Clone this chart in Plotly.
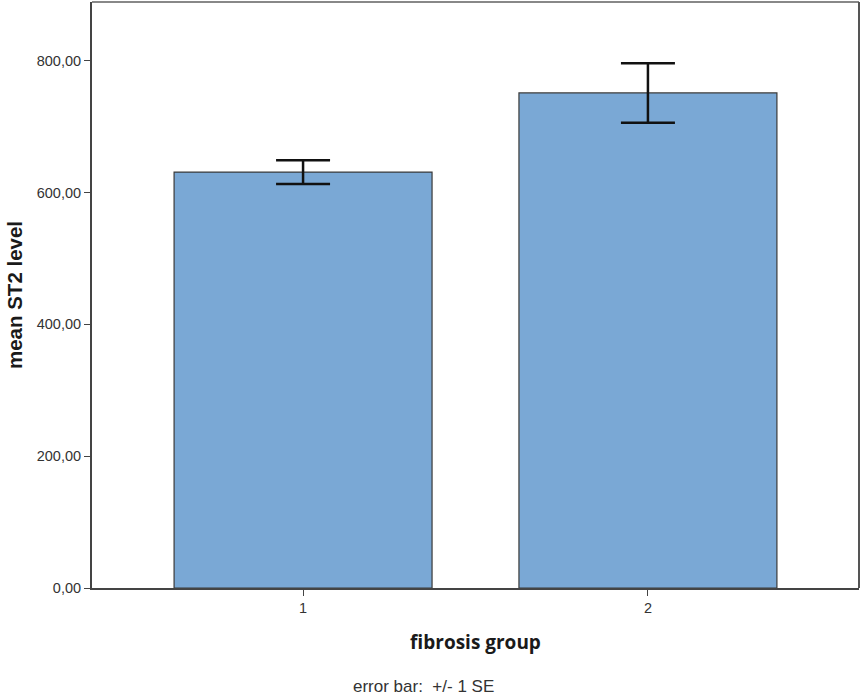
import plotly.graph_objects as go

# Mean ST2 level per fibrosis group, with standard error
groups = [1, 2]
group_labels = ["1", "2"]
mean_st2 = [631, 751]
se_st2 = [18, 45]

y_tick_vals = [0, 200, 400, 600, 800]
y_tick_text = ["0,00", "200,00", "400,00", "600,00", "800,00"]

fig = go.Figure()
fig.add_trace(go.Bar(
    x=groups,
    y=mean_st2,
    width=0.748,
    marker=dict(color="#7AA8D5", line=dict(color="#3a3a3a", width=1.2)),
    error_y=dict(type="data", array=se_st2, visible=True,
                 color="#111111", thickness=2.5, width=27),
    showlegend=False,
))

fig.update_layout(
    width=860, height=696,
    margin=dict(l=92, r=1, t=2, b=108),
    paper_bgcolor="white",
    plot_bgcolor="white",
    font=dict(family="Liberation Sans, Arial, sans-serif", color="#333333"),
    xaxis=dict(
        range=[0.388, 2.612],
        tickvals=groups, ticktext=group_labels,
        ticks="outside", ticklen=6, tickcolor="#444444", tickwidth=1,
        tickfont=dict(size=14.5, color="#333333"),
        showline=True, linecolor="#444444", linewidth=2, mirror=False,
        showgrid=False, zeroline=False,
        title=dict(text="<b>fibrosis group</b>",
                   font=dict(family="Open Sans, sans-serif", size=19, color="#1a1a1a"),
                   standoff=20),
    ),
    yaxis=dict(
        range=[0, 889],
        tickvals=y_tick_vals, ticktext=y_tick_text,
        ticks="outside", ticklen=6, tickcolor="#444444", tickwidth=1,
        tickfont=dict(size=14.5, color="#333333"),
        showline=True, linecolor="#444444", linewidth=2,
        showgrid=False, zeroline=False,
        title=dict(text="<b>mean ST2 level</b>", font=dict(size=20.5, color="#1a1a1a"), standoff=9),
    ),
    shapes=[
        dict(type="line", xref="paper", yref="paper", x0=0, x1=1, y0=1, y1=1,
             line=dict(color="#888888", width=2)),
        dict(type="line", xref="paper", yref="paper", x0=1, x1=1, y0=0, y1=1,
             line=dict(color="#555555", width=2)),
    ],
    annotations=[
        dict(text="error bar:  +/- 1 SE", xref="paper", yref="paper",
             x=(423 - 92) / 767, y=0, yshift=-98, xanchor="center", yanchor="middle",
             showarrow=False, font=dict(size=17, color="#333333")),
    ],
)

fig.write_html("out.html")
